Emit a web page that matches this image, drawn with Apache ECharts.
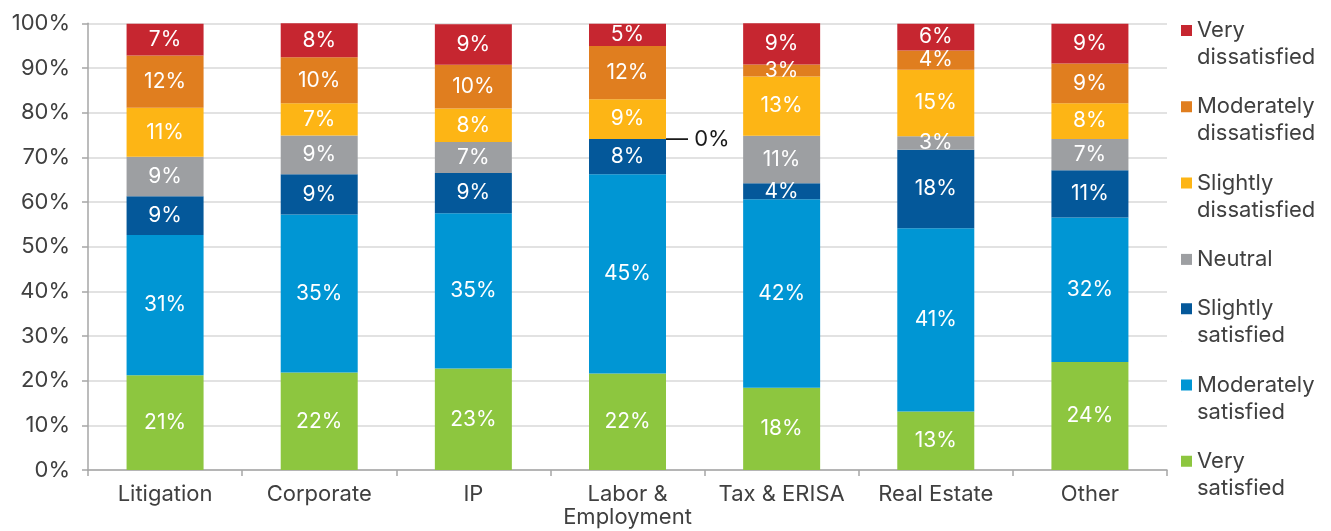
<!DOCTYPE html>
<html>
<head>
<meta charset="utf-8">
<script src="https://cdn.jsdelivr.net/npm/echarts@6/dist/echarts.min.js"></script>
<style>
  html, body { margin: 0; padding: 0; background: #fff; }
  #chart { width: 1331px; height: 531px; }
</style>
</head>
<body>
<div id="chart"></div>
<script>
// categories on the x axis
var categories = ['Litigation', 'Corporate', 'IP', 'Labor &\nEmployment', 'Tax & ERISA', 'Real Estate', 'Other'];

// share of respondents (%), bottom to top
var verySatisfied          = [21.2, 21.8, 22.7, 21.6, 18.4, 13.1, 24.2];
var moderatelySatisfied    = [31.4, 35.4, 34.8, 44.6, 42.2, 41.0, 32.3];
var slightlySatisfied      = [8.7, 9.0, 9.0, 7.9, 3.6, 17.6, 10.6];
var neutral                = [8.8, 8.7, 6.9, 0, 10.6, 3.0, 7.0];
var slightlyDissatisfied   = [11.0, 7.2, 7.5, 8.9, 13.3, 14.9, 8.0];
var moderatelyDissatisfied = [11.7, 10.3, 9.8, 11.9, 2.7, 4.3, 8.9];
var veryDissatisfied       = [7.1, 7.6, 9.1, 5.0, 9.2, 6.0, 8.9];

var yTicks = [0, 10, 20, 30, 40, 50, 60, 70, 80, 90, 100];

var seriesDefs = [
  { name: 'Very\nsatisfied', data: verySatisfied, color: '#8DC63F' },
  { name: 'Moderately\nsatisfied', data: moderatelySatisfied, color: '#0096D4' },
  { name: 'Slightly\nsatisfied', data: slightlySatisfied, color: '#04589A' },
  { name: 'Neutral', data: neutral, color: '#9D9FA2' },
  { name: 'Slightly\ndissatisfied', data: slightlyDissatisfied, color: '#FDB515' },
  { name: 'Moderately\ndissatisfied', data: moderatelyDissatisfied, color: '#E07E1F' },
  { name: 'Very\ndissatisfied', data: veryDissatisfied, color: '#C62630' }
];

var FONT = 'Inter';
var TEXT = '#404040';

// tall legend icons put the square beside the first text line
var iconTwoLine = 'path://M0,0h11v11h-11z M0,37.9h0.1v0.1h-0.1z';
var iconOneLine = 'path://M0,0h11v11h-11z';

var series = seriesDefs.map(function (s) {
  return {
    name: s.name,
    type: 'bar',
    stack: 'total',
    barWidth: 77,
    itemStyle: { color: s.color },
    label: {
      show: true,
      position: 'inside',
      color: '#fff',
      fontFamily: FONT,
      fontSize: 21,
      formatter: function (p) { return Math.round(p.value) + '%'; }
    },
    data: s.data.map(function (v) {
      if (Math.round(v) === 0) {
        return {
          value: v,
          label: {
            position: 'right',
            distance: 0,
            color: '#1a1a1a',
            fontSize: 22,
            formatter: '— 0%'
          }
        };
      }
      return v;
    })
  };
});

var chart = echarts.init(document.getElementById('chart'));
chart.setOption({
  animation: false,
  backgroundColor: '#fff',
  textStyle: { fontFamily: FONT },
  grid: { left: 88, right: 164, top: 23.3, bottom: 61 },
  legend: {
    orient: 'vertical',
    left: 1176,
    top: 12,
    itemWidth: 11,
    itemHeight: 38,
    itemGap: 22.3,
    selectedMode: false,
    textStyle: { color: TEXT, fontFamily: FONT, fontSize: 22, lineHeight: 27 },
    data: seriesDefs.slice().reverse().map(function (s) {
      return { name: s.name, icon: s.name.indexOf('\n') >= 0 ? iconTwoLine : iconOneLine };
    })
  },
  xAxis: {
    type: 'category',
    data: categories,
    axisLine: { lineStyle: { color: '#a6a6a6', width: 1.5 } },
    axisTick: { show: true, length: 6, lineStyle: { color: '#a6a6a6', width: 1.5 } },
    axisLabel: { color: TEXT, fontFamily: FONT, fontSize: 22, lineHeight: 23, margin: 13, interval: 0 }
  },
  yAxis: {
    type: 'value',
    min: yTicks[0],
    max: yTicks[yTicks.length - 1],
    interval: yTicks[1] - yTicks[0],
    axisLine: { show: true, lineStyle: { color: '#a6a6a6', width: 1.5 } },
    axisTick: { show: true, length: 6, lineStyle: { color: '#a6a6a6', width: 1.5 } },
    axisLabel: { color: TEXT, fontFamily: FONT, fontSize: 22, margin: 18, formatter: '{value}%' },
    splitLine: { lineStyle: { color: '#d9d9d9', width: 1.5 } }
  },
  series: series
});
</script>
</body>
</html>
